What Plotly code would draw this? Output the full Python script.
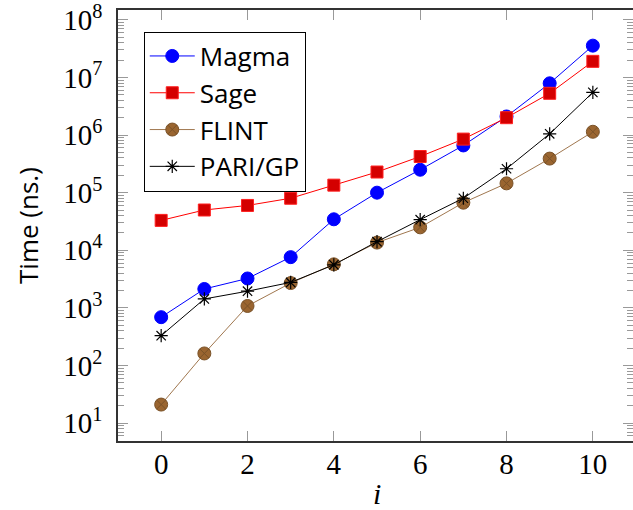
import plotly.graph_objects as go

x_vals = [0, 1, 2, 3, 4, 5, 6, 7, 8, 9, 10]
magma = [690, 2130, 3240, 7600, 34500, 100000, 250000, 660000, 2100000, 7900000, 35600000]
sage = [33000, 50000, 60000, 80000, 135000, 228000, 424000, 850000, 2000000, 5300000, 19000000]
flint = [21, 162, 1080, 2700, 5700, 13600, 25000, 67000, 145000, 390000, 1140000]
pari = [330, 1430, 1950, 2770, 5600, 14100, 34000, 80000, 260000, 1050000, 5500000]

x_ticks = [0, 2, 4, 6, 8, 10]
y_tickvals = [10, 100, 1000, 1e4, 1e5, 1e6, 1e7, 1e8]
y_ticktext = ["10<sup>1</sup>", "10<sup>2</sup>", "10<sup>3</sup>", "10<sup>4</sup>",
              "10<sup>5</sup>", "10<sup>6</sup>", "10<sup>7</sup>", "10<sup>8</sup>"]

serif = "Liberation Serif, DejaVu Serif, serif"
sans = "Open Sans, DejaVu Sans, sans-serif"

fig = go.Figure()
fig.add_trace(go.Scatter(x=x_vals, y=magma, name="Magma", mode="lines+markers",
                         line=dict(color="#0000ff", width=1),
                         marker=dict(symbol="circle", size=13, color="#0000ff",
                                     line=dict(color="#0000ff", width=1))))
fig.add_trace(go.Scatter(x=x_vals, y=sage, name="Sage", mode="lines+markers",
                         line=dict(color="#ff0000", width=1),
                         marker=dict(symbol="square", size=12, color="#d40000",
                                     line=dict(color="#ff2020", width=1))))
fig.add_trace(go.Scatter(x=x_vals, y=flint, name="FLINT", mode="lines+markers",
                         line=dict(color="#a0774f", width=1),
                         marker=dict(symbol="circle-x", size=13, color="#9a6530",
                                     line=dict(color="#7a5228", width=1))))
fig.add_trace(go.Scatter(x=x_vals, y=pari, name="PARI/GP", mode="lines+markers",
                         line=dict(color="#000000", width=1),
                         marker=dict(symbol="asterisk-open", size=11, color="#000000",
                                     line=dict(color="#000000", width=1.2))))

fig.update_layout(
    width=633, height=510,
    margin=dict(l=118, r=0, t=10, b=69, autoexpand=False),
    paper_bgcolor="white", plot_bgcolor="white",
    showlegend=True,
    legend=dict(x=0.05, y=0.95, xanchor="left", yanchor="top",
                bgcolor="white", bordercolor="black", borderwidth=1,
                font=dict(family=sans, size=26, color="black"),
                tracegroupgap=0, itemwidth=45, entrywidth=185, entrywidthmode="pixels"),
    xaxis=dict(range=[-1.0, 10.93], tickvals=x_ticks, ticks="inside", ticklen=10,
               tickcolor="#999999", tickwidth=1, showgrid=False, zeroline=False,
               showline=True, linecolor="#333333", linewidth=1.5, mirror="ticks",
               automargin=False, ticklabelstandoff=-4, ticklabeloverflow="allow",
               tickfont=dict(family=serif, size=29, color="black")),
    yaxis=dict(type="log", range=[0.69, 8.17], tickvals=y_tickvals, ticktext=y_ticktext,
               ticks="inside", ticklen=10, tickcolor="#999999", tickwidth=1,
               showgrid=False, zeroline=False, automargin=False, ticklabelstandoff=8,
               ticklabeloverflow="allow",
               showline=True, linecolor="#333333", linewidth=1.5, mirror="ticks",
               minor=dict(ticks="inside", ticklen=6, tickcolor="#999999", tickwidth=1,
                          dtick="D1", showgrid=False),
               tickfont=dict(family=serif, size=29, color="black")),
    annotations=[
        dict(text="<i>i</i>", xref="paper", yref="paper", showarrow=False,
             x=(377 - 118) / 515, y=-(493 - 441) / 431, yanchor="middle",
             font=dict(family=serif, size=30, color="black")),
        dict(text="Time (ns.)", textangle=-90, xref="paper", yref="paper", showarrow=False,
             x=(28 - 118) / 515, xanchor="center", y=(441 - 226) / 431, yanchor="middle",
             font=dict(family=sans, size=26, color="black")),
    ],
)

fig.write_html("out.html", config={"displayModeBar": False},
               post_script="document.body.style.margin='0px';document.body.style.overflow='hidden';")
